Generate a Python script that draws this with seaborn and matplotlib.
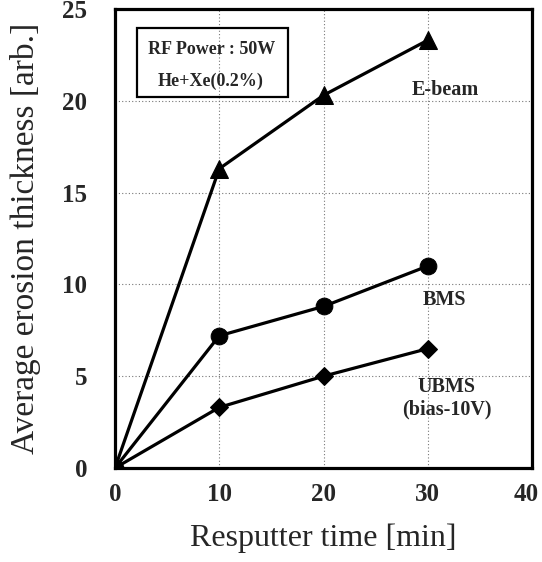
import numpy as np
import pandas as pd
import seaborn as sns
import matplotlib.pyplot as plt
import matplotlib.transforms as mtransforms
from matplotlib.patches import Rectangle

sns.set_style("white")
plt.rcParams['font.family'] = ['Liberation Serif', 'DejaVu Serif']

time_min = [0, 10, 20, 30]
ebeam = [0, 16.3, 20.3, 23.3]
bms = [0, 7.2, 8.8, 11.0]
ubms = [0, 3.3, 5.0, 6.5]

df = pd.DataFrame({
    'time': time_min * 3,
    'value': ebeam + bms + ubms,
    'method': ['E-beam'] * 4 + ['BMS'] * 4 + ['UBMS'] * 4,
})

fig = plt.figure(figsize=(5.42, 5.62), dpi=100)
ax = fig.add_axes([0.2122, 0.1673, 0.7694, 0.8167])

sns.lineplot(data=df, x='time', y='value', hue='method', style='method',
             markers={'E-beam': '^', 'BMS': 'o', 'UBMS': 'D'},
             dashes=False, palette=['black'] * 3, linewidth=2.3,
             markersize=12, markeredgecolor='black', legend=False, ax=ax)
for line in ax.lines:
    if line.get_marker() == 'D':
        line.set_markersize(9.5)
    if line.get_marker() == '^':
        line.set_markersize(12.5)

ax.set_xlim(0, 40)
ax.set_ylim(0, 25)
ax.set_xticks([0, 10, 20, 30, 40])
ax.set_yticks([0, 5, 10, 15, 20, 25])
ax.grid(True, color='#777777', linestyle=(0, (1, 2)), linewidth=0.8)
for s in ax.spines.values():
    s.set_linewidth(2.3)
    s.set_color('black')
ax.tick_params(axis='x', labelsize=18, pad=11, length=0)
ax.tick_params(axis='y', labelsize=18, pad=20, length=0)
for t in ax.get_xticklabels() + ax.get_yticklabels():
    t.set_fontweight('bold')
# keep the last x tick label inside the figure
last = ax.get_xticklabels()[-1]
last.set_transform(last.get_transform() +
                   mtransforms.ScaledTranslation(-0.06, 0, fig.dpi_scale_trans))

ax.set_xlabel('Resputter time [min]', fontsize=23, va='center')
ax.set_ylabel('Average erosion thickness [arb.]', fontsize=24, va='center')
ax.xaxis.set_label_coords(0.5, -0.1525)
ax.yaxis.set_label_coords(-0.214, 0.5)

ax.text(31.7, 20.6, 'E-beam', fontsize=14.5, fontweight='bold', ha='center', va='center')
ax.text(31.6, 9.17, 'BMS', fontsize=14.5, fontweight='bold', ha='center', va='center')
ax.text(31.8, 4.42, 'UBMS', fontsize=14.5, fontweight='bold', ha='center', va='center')
ax.text(31.8, 3.17, '(bias-10V)', fontsize=14.5, fontweight='bold', ha='center', va='center')

ax.add_patch(Rectangle((2.1, 20.2), 14.5, 3.76, fill=False, edgecolor='black',
                       linewidth=1.6, zorder=3))
ax.text(9.3, 22.8, 'RF Power : 50W', fontsize=13, fontweight='bold', ha='center', va='center')
ax.text(9.2, 21.07, 'He+Xe(0.2%)', fontsize=13, fontweight='bold', ha='center', va='center')

fig.savefig('out.png', dpi=100)
